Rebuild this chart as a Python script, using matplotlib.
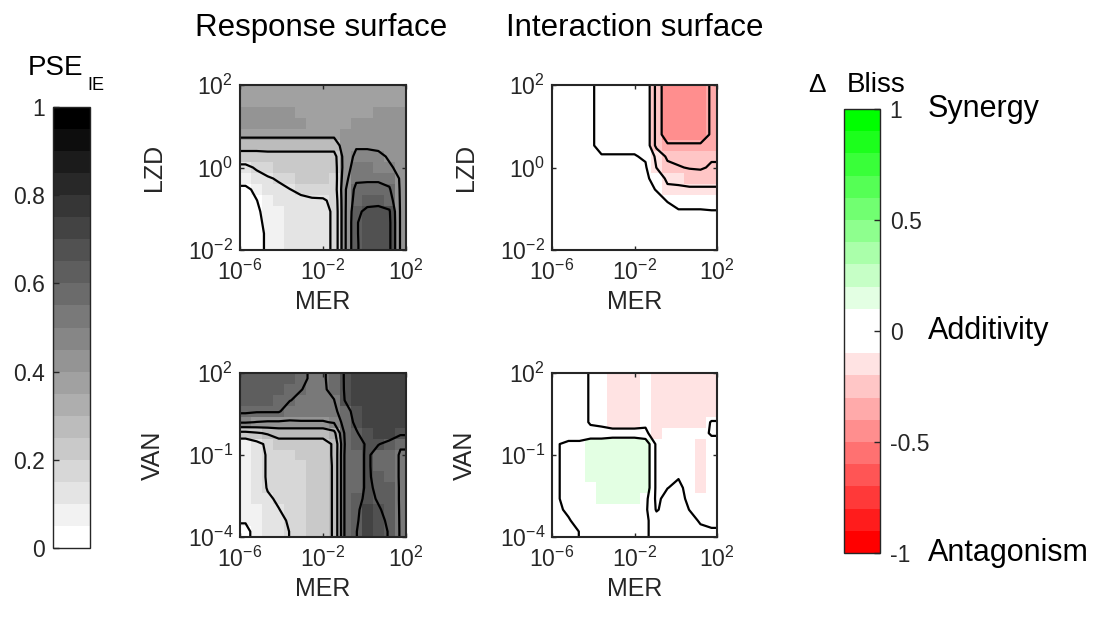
import numpy as np
import matplotlib
matplotlib.use('Agg')
from matplotlib import pyplot as plt
from matplotlib.colors import ListedColormap, BoundaryNorm
from matplotlib.cm import ScalarMappable
from matplotlib.ticker import FixedLocator, FuncFormatter

plt.rcParams['font.family'] = ['Liberation Sans', 'DejaVu Sans']
plt.rcParams['mathtext.fontset'] = 'custom'
plt.rcParams['mathtext.rm'] = 'Liberation Sans'
plt.rcParams['mathtext.it'] = 'Liberation Sans:italic'
plt.rcParams['mathtext.bf'] = 'Liberation Sans:bold'
plt.rcParams['contour.negative_linestyle'] = 'solid'

# log10 dose ranges of the 15 x 15 grids
mer_range = (-6, 2)
lzd_range = (-2, 2)
van_range = (-4, 2)
mer_ticks = [-6, -2, 2]
lzd_ticks = [-2, 0, 2]
van_ticks = [-4, -1, 2]

# response surface MER x LZD, rows from high LZD (top) to low LZD (bottom)
pse_lzd = np.array([
    [0.37] * 15,
    [0.37] * 15,
    [0.42, 0.42, 0.42, 0.42, 0.42, 0.37, 0.37, 0.37, 0.37, 0.37, 0.37, 0.37, 0.42, 0.42, 0.42],
    [0.42, 0.42, 0.42, 0.42, 0.42, 0.42, 0.37, 0.37, 0.37, 0.37, 0.42, 0.42, 0.42, 0.42, 0.42],
    [0.37, 0.37, 0.37, 0.37, 0.37, 0.37, 0.37, 0.37, 0.37, 0.41, 0.43, 0.43, 0.43, 0.43, 0.42],
    [0.30, 0.30, 0.30, 0.30, 0.30, 0.30, 0.30, 0.30, 0.30, 0.40, 0.44, 0.44, 0.43, 0.43, 0.42],
    [0.20, 0.20, 0.21, 0.21, 0.21, 0.21, 0.21, 0.21, 0.21, 0.40, 0.47, 0.47, 0.47, 0.44, 0.43],
    [0.13, 0.16, 0.19, 0.20, 0.21, 0.21, 0.21, 0.21, 0.20, 0.40, 0.50, 0.50, 0.48, 0.46, 0.43],
    [0.09, 0.12, 0.14, 0.16, 0.19, 0.20, 0.20, 0.20, 0.19, 0.42, 0.53, 0.54, 0.54, 0.52, 0.44],
    [0.03, 0.07, 0.11, 0.13, 0.148, 0.17, 0.18, 0.19, 0.19, 0.44, 0.58, 0.57, 0.57, 0.56, 0.44],
    [0.02, 0.048, 0.09, 0.11, 0.12, 0.13, 0.14, 0.14, 0.17, 0.44, 0.60, 0.62, 0.62, 0.60, 0.44],
    [0.02, 0.04, 0.07, 0.09, 0.11, 0.12, 0.13, 0.13, 0.16, 0.44, 0.63, 0.67, 0.68, 0.66, 0.44],
    [0.02, 0.03, 0.07, 0.09, 0.11, 0.12, 0.13, 0.13, 0.16, 0.44, 0.64, 0.70, 0.70, 0.67, 0.44],
    [0.02, 0.03, 0.06, 0.08, 0.11, 0.12, 0.13, 0.13, 0.16, 0.44, 0.64, 0.70, 0.70, 0.67, 0.44],
    [0.02, 0.03, 0.06, 0.08, 0.11, 0.12, 0.13, 0.13, 0.16, 0.44, 0.64, 0.69, 0.70, 0.67, 0.44],
])

# response surface MER x VAN
pse_van = np.array([
    [0.64, 0.64, 0.63, 0.63, 0.62, 0.58, 0.53, 0.54, 0.58, 0.66, 0.74, 0.74, 0.74, 0.72, 0.72],
    [0.64, 0.63, 0.63, 0.62, 0.60, 0.553, 0.53, 0.54, 0.57, 0.66, 0.74, 0.74, 0.74, 0.72, 0.72],
    [0.63, 0.63, 0.62, 0.60, 0.553, 0.53, 0.53, 0.53, 0.548, 0.655, 0.73, 0.74, 0.73, 0.72, 0.72],
    [0.57, 0.56, 0.56, 0.56, 0.50, 0.52, 0.52, 0.52, 0.53, 0.60, 0.70, 0.72, 0.72, 0.72, 0.72],
    [0.46, 0.447, 0.44, 0.44, 0.44, 0.44, 0.44, 0.44, 0.46, 0.60, 0.67, 0.72, 0.72, 0.72, 0.72],
    [0.22, 0.24, 0.26, 0.28, 0.28, 0.28, 0.28, 0.28, 0.32, 0.57, 0.64, 0.70, 0.72, 0.71, 0.67],
    [0.08, 0.12, 0.17, 0.22, 0.22, 0.22, 0.22, 0.22, 0.26, 0.56, 0.62, 0.66, 0.655, 0.62, 0.56],
    [0.07, 0.11, 0.16, 0.19, 0.19, 0.20, 0.21, 0.22, 0.26, 0.57, 0.60, 0.67, 0.60, 0.60, 0.54],
    [0.07, 0.11, 0.16, 0.18, 0.18, 0.19, 0.20, 0.21, 0.26, 0.57, 0.60, 0.67, 0.60, 0.60, 0.54],
    [0.07, 0.11, 0.16, 0.18, 0.18, 0.19, 0.20, 0.21, 0.26, 0.57, 0.60, 0.67, 0.61, 0.60, 0.54],
    [0.07, 0.11, 0.155, 0.17, 0.18, 0.19, 0.20, 0.21, 0.26, 0.57, 0.60, 0.67, 0.63, 0.61, 0.54],
    [0.07, 0.10, 0.14, 0.16, 0.18, 0.19, 0.20, 0.21, 0.26, 0.57, 0.61, 0.68, 0.64, 0.61, 0.54],
    [0.065, 0.09, 0.12, 0.148, 0.17, 0.19, 0.20, 0.21, 0.26, 0.57, 0.62, 0.72, 0.66, 0.62, 0.54],
    [0.055, 0.08, 0.11, 0.13, 0.16, 0.19, 0.20, 0.21, 0.26, 0.57, 0.63, 0.73, 0.68, 0.63, 0.54],
    [0.035, 0.07, 0.10, 0.12, 0.152, 0.18, 0.20, 0.21, 0.26, 0.57, 0.645, 0.73, 0.70, 0.64, 0.54],
])

# interaction surface (delta Bliss) MER x LZD
bliss_lzd = np.array([
    [0, 0, -0.01, -0.04, -0.07, -0.07, -0.07, -0.07, -0.07, -0.28, -0.43, -0.43, -0.43, -0.43, -0.33],
    [0, 0, -0.01, -0.04, -0.07, -0.07, -0.07, -0.07, -0.07, -0.28, -0.43, -0.43, -0.43, -0.43, -0.33],
    [0, 0, -0.01, -0.04, -0.07, -0.07, -0.07, -0.07, -0.07, -0.28, -0.43, -0.43, -0.43, -0.43, -0.33],
    [0, 0, -0.01, -0.04, -0.07, -0.07, -0.07, -0.07, -0.07, -0.28, -0.43, -0.43, -0.43, -0.43, -0.33],
    [0, 0, -0.01, -0.04, -0.07, -0.07, -0.07, -0.07, -0.07, -0.28, -0.43, -0.43, -0.43, -0.43, -0.33],
    [0, 0, -0.01, -0.04, -0.07, -0.07, -0.07, -0.07, -0.07, -0.28, -0.33, -0.33, -0.33, -0.33, -0.30],
    [0, 0, -0.01, -0.02, -0.045, -0.045, -0.045, -0.045, -0.06, -0.17, -0.27, -0.27, -0.27, -0.27, -0.26],
    [0, 0, 0, -0.01, -0.02, -0.02, -0.02, -0.03, -0.04, -0.152, -0.22, -0.245, -0.255, -0.26, -0.24],
    [0, 0, 0, 0, -0.01, -0.01, -0.01, -0.02, -0.03, -0.09, -0.17, -0.18, -0.21, -0.21, -0.21],
    [0, 0, 0, 0, 0, 0, -0.01, -0.01, -0.02, -0.055, -0.13, -0.13, -0.13, -0.13, -0.13],
    [0, 0, 0, 0, 0, 0, 0, -0.01, -0.01, -0.02, -0.055, -0.09, -0.09, -0.09, -0.09],
    [0, 0, 0, 0, 0, 0, 0, 0, 0, -0.01, -0.02, -0.04, -0.04, -0.04, -0.045],
    [0, 0, 0, 0, 0, 0, 0, 0, 0, 0, -0.01, -0.01, -0.01, -0.01, -0.01],
    [0, 0, 0, 0, 0, 0, 0, 0, 0, 0, -0.01, -0.01, -0.01, -0.01, -0.01],
    [0, 0, 0, 0, 0, 0, 0, 0, 0, 0, -0.01, -0.01, -0.01, -0.01, -0.01],
])

# interaction surface (delta Bliss) MER x VAN
bliss_van = np.array([
    [0, 0, -0.01, -0.06, -0.07, -0.12, -0.12, -0.12, -0.08, -0.13, -0.13, -0.13, -0.13, -0.13, -0.13],
    [0, 0, -0.01, -0.06, -0.07, -0.12, -0.12, -0.12, -0.08, -0.13, -0.13, -0.13, -0.13, -0.13, -0.13],
    [0, 0, -0.01, -0.06, -0.07, -0.12, -0.12, -0.12, -0.08, -0.13, -0.13, -0.13, -0.13, -0.13, -0.13],
    [0, 0, -0.01, -0.06, -0.07, -0.12, -0.12, -0.12, -0.08, -0.13, -0.13, -0.13, -0.13, -0.13, -0.13],
    [0, 0, -0.01, -0.06, -0.07, -0.12, -0.12, -0.12, -0.07, -0.12, -0.12, -0.12, -0.12, -0.12, -0.04],
    [0, 0, 0, -0.02, -0.02, 0, 0, 0, -0.03, -0.11, -0.08, -0.08, -0.08, -0.08, -0.04],
    [0.045, 0.07, 0.07, 0.12, 0.12, 0.12, 0.12, 0.12, 0.12, -0.07, -0.08, -0.08, -0.08, -0.12, -0.08],
    [0.045, 0.07, 0.07, 0.12, 0.12, 0.12, 0.12, 0.12, 0.12, -0.07, -0.08, -0.08, -0.08, -0.12, -0.08],
    [0.045, 0.07, 0.07, 0.12, 0.12, 0.12, 0.12, 0.12, 0.12, -0.07, -0.08, -0.08, -0.08, -0.12, -0.08],
    [0.045, 0.07, 0.07, 0.12, 0.12, 0.12, 0.12, 0.12, 0.12, -0.07, -0.08, -0.055, -0.08, -0.12, -0.08],
    [0.045, 0.07, 0.07, 0.08, 0.12, 0.12, 0.12, 0.12, 0.12, -0.07, -0.052, -0.03, -0.08, -0.12, -0.08],
    [0.045, 0.07, 0.07, 0.07, 0.12, 0.12, 0.12, 0.12, 0.08, -0.07, -0.02, -0.02, -0.07, -0.08, -0.08],
    [0.04, 0.06, 0.07, 0.07, 0.07, 0.07, 0.07, 0.07, 0.07, -0.06, -0.01, -0.01, -0.052, -0.08, -0.08],
    [0.02, 0.045, 0.07, 0.07, 0.07, 0.07, 0.07, 0.07, 0.07, 0, 0, 0, -0.02, -0.06, -0.07],
    [0, 0.02, 0.052, 0.07, 0.07, 0.07, 0.07, 0.07, 0.07, 0, 0, 0, -0.01, -0.03, -0.04],
])

# colour maps: 20 flat bands
gray_colors = [(1 - i / 19,) * 3 for i in range(20)]
pse_cmap = ListedColormap(gray_colors)
pse_norm = BoundaryNorm(np.linspace(0, 1, 21), 20)

bliss_colors = []
for i in range(20):
    if i < 9:
        s = 1 - (9 - i) / 9
        bliss_colors.append((1, s, s))
    elif i < 11:
        bliss_colors.append((1, 1, 1))
    else:
        s = 1 - (i - 10) / 9
        bliss_colors.append((s, 1, s))
bliss_cmap = ListedColormap(bliss_colors)
bliss_norm = BoundaryNorm(np.linspace(-1, 1, 21), 20)

pse_levels = np.arange(0.05, 1.0, 0.1)
bliss_levels = np.arange(-0.95, 1.0, 0.1)

W, H = 1097, 625
dark = '#262626'


def box(x0, y0, x1, y1):
    return [x0 / W, 1 - y1 / H, (x1 - x0) / W, (y1 - y0) / H]


def pow10(v, pos):
    return '$10^{%d}$' % round(v)


def draw_panel(ax, grid, yrange, yticks, ylabel, cmap, norm, levels):
    n = grid.shape[0]
    z = np.flipud(grid)
    xe = np.linspace(mer_range[0], mer_range[1], n + 1)
    ye = np.linspace(yrange[0], yrange[1], n + 1)
    ax.pcolormesh(xe, ye, z, cmap=cmap, norm=norm, shading='flat')
    # contour on cell centres, padded to reach the frame
    xc = np.concatenate([[xe[0]], (xe[:-1] + xe[1:]) / 2, [xe[-1]]])
    yc = np.concatenate([[ye[0]], (ye[:-1] + ye[1:]) / 2, [ye[-1]]])
    zp = np.pad(z, 1, mode='edge')
    ax.contour(xc, yc, zp, levels=levels, colors='black', linewidths=1.6,
               linestyles='solid')
    ax.set_xlim(mer_range)
    ax.set_ylim(yrange)
    ax.xaxis.set_major_locator(FixedLocator(mer_ticks))
    ax.yaxis.set_major_locator(FixedLocator(yticks))
    ax.xaxis.set_major_formatter(FuncFormatter(pow10))
    ax.yaxis.set_major_formatter(FuncFormatter(pow10))
    ax.tick_params(direction='in', length=3, width=1, top=True, right=True,
                   labelsize=16.5, colors=dark)
    ax.tick_params(axis='x', pad=7)
    ax.tick_params(axis='y', pad=5)
    for sp in ax.spines.values():
        sp.set_color(dark)
        sp.set_linewidth(1.5)
    ax.set_xlabel('MER', fontsize=18, color=dark, labelpad=4)
    ax.set_ylabel(ylabel, fontsize=18, color=dark, labelpad=16)


fig = plt.figure(figsize=(W / 100, H / 100), dpi=100)

ax_tl = fig.add_axes(box(240, 85, 406, 250))
ax_tr = fig.add_axes(box(552, 85, 717, 250))
ax_bl = fig.add_axes(box(240, 373, 406, 537))
ax_br = fig.add_axes(box(552, 373, 717, 537))

draw_panel(ax_tl, pse_lzd, lzd_range, lzd_ticks, 'LZD', pse_cmap, pse_norm, pse_levels)
draw_panel(ax_tr, bliss_lzd, lzd_range, lzd_ticks, 'LZD', bliss_cmap, bliss_norm, bliss_levels)
draw_panel(ax_bl, pse_van, van_range, van_ticks, 'VAN', pse_cmap, pse_norm, pse_levels)
draw_panel(ax_br, bliss_van, van_range, van_ticks, 'VAN', bliss_cmap, bliss_norm, bliss_levels)

fig.text(321 / W, 1 - 28 / H, 'Response surface', ha='center', va='center', fontsize=22.5)
fig.text(635 / W, 1 - 28 / H, 'Interaction surface', ha='center', va='center', fontsize=22.5)

# PSE colour bar
cax1 = fig.add_axes(box(53, 107, 90, 548))
cb1 = fig.colorbar(ScalarMappable(norm=pse_norm, cmap=pse_cmap), cax=cax1)
cb1.set_ticks([0, 0.2, 0.4, 0.6, 0.8, 1])
cb1.set_ticklabels(['0', '0.2', '0.4', '0.6', '0.8', '1'])
cb1.minorticks_off()
cax1.yaxis.set_ticks_position('left')
cax1.yaxis.set_label_position('left')
cax1.tick_params(direction='in', length=4, width=1, labelsize=16.5, colors=dark, pad=6)
cb1.outline.set_edgecolor(dark)
cb1.outline.set_linewidth(1)
fig.text(28 / W, 1 - 75 / H, 'PSE', ha='left', va='baseline', fontsize=20)
fig.text(87 / W, 1 - 90 / H, 'IE', ha='left', va='baseline', fontsize=13)

# delta Bliss colour bar
cax2 = fig.add_axes(box(844, 109, 880, 553))
cb2 = fig.colorbar(ScalarMappable(norm=bliss_norm, cmap=bliss_cmap), cax=cax2)
cb2.set_ticks([-1, -0.5, 0, 0.5, 1])
cb2.set_ticklabels(['-1', '-0.5', '0', '0.5', '1'])
cb2.minorticks_off()
cax2.tick_params(direction='in', length=4, width=1, labelsize=16.5, colors=dark, pad=7)
cb2.outline.set_edgecolor(dark)
cb2.outline.set_linewidth(1)
fig.text(808 / W, 1 - 92 / H, '\u0394', ha='left', va='baseline', fontsize=19)
fig.text(847 / W, 1 - 92 / H, 'Bliss', ha='left', va='baseline', fontsize=20)
side_x = (928 - 844) / 36
for yy, txt in [(1.0, 'Synergy'), (0.5, 'Additivity'), (0.0, 'Antagonism')]:
    cax2.text(side_x, yy, txt, transform=cax2.transAxes, ha='left', va='center',
              fontsize=22)

fig.savefig('out.png', dpi=100)
